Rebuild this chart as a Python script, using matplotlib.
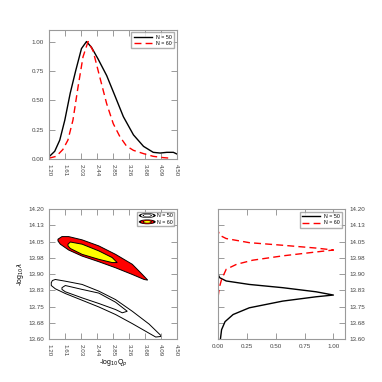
import numpy as np
import matplotlib.pyplot as plt
from matplotlib.patches import Polygon, Patch, Ellipse
from matplotlib.legend_handler import HandlerPatch

plt.rcParams['font.family'] = ['Liberation Sans', 'DejaVu Sans']

# marginal of -log10 Qp
qp_50 = [1.20, 1.35, 1.48, 1.61, 1.75, 1.89, 2.04, 2.17, 2.30, 2.47, 2.69, 2.90,
         3.12, 3.38, 3.64, 3.89, 4.07, 4.24, 4.41, 4.50]
p_qp_50 = [0.017, 0.065, 0.16, 0.33, 0.56, 0.75, 0.94, 1.0, 0.95, 0.85, 0.71, 0.54,
           0.36, 0.205, 0.107, 0.056, 0.05, 0.056, 0.056, 0.042]
qp_60 = [1.20, 1.39, 1.56, 1.69, 1.82, 1.95, 2.08, 2.21, 2.34, 2.51, 2.69, 2.86,
         3.03, 3.20, 3.38, 3.64, 3.89, 4.15, 4.33]
p_qp_60 = [0.006, 0.022, 0.08, 0.16, 0.33, 0.61, 0.87, 1.0, 0.92, 0.70, 0.47, 0.30,
           0.19, 0.11, 0.073, 0.045, 0.022, 0.011, 0.006]

# marginal of -log10 lambda
lam_50 = [13.600, 13.643, 13.680, 13.713, 13.744, 13.775, 13.795, 13.803, 13.818,
          13.837, 13.852, 13.868, 13.883, 13.898]
p_lam_50 = [0.02, 0.03, 0.06, 0.13, 0.27, 0.56, 0.85, 1.0, 0.85, 0.56, 0.27, 0.07,
            0.014, 0.0]
lam_60 = [13.795, 13.837, 13.875, 13.922, 13.945, 13.964, 13.984, 14.002, 14.011,
          14.020, 14.033, 14.045, 14.064, 14.079, 14.099]
p_lam_60 = [0.0, 0.01, 0.03, 0.07, 0.16, 0.30, 0.56, 0.85, 1.0, 0.85, 0.56, 0.27,
            0.07, 0.014, 0.0]

# joint credible regions (outer / inner), traced clockwise from the left tip
n50_outer_x = [1.261, 1.290, 1.365, 1.624, 2.056, 2.487, 2.919, 3.351, 3.783, 4.111,
               3.955, 3.351, 2.919, 2.487, 2.056, 1.624, 1.365, 1.261]
n50_outer_y = [13.860, 13.870, 13.875, 13.867, 13.852, 13.821, 13.782, 13.728, 13.669,
               13.612, 13.609, 13.671, 13.713, 13.748, 13.779, 13.810, 13.832, 13.847]
n50_inner_x = [1.537, 1.624, 2.056, 2.487, 2.919, 3.221, 3.092, 2.919, 2.487, 2.056,
               1.624, 1.537]
n50_inner_y = [13.837, 13.847, 13.829, 13.812, 13.770, 13.728, 13.721, 13.736, 13.764,
               13.790, 13.818, 13.829]
n60_outer_x = [1.434, 1.537, 1.710, 2.056, 2.487, 2.919, 3.351, 3.610, 3.748,
               3.653, 3.351, 2.919, 2.487, 2.056, 1.710, 1.494, 1.434]
n60_outer_y = [14.061, 14.073, 14.073, 14.058, 14.030, 13.991, 13.945, 13.898, 13.872,
               13.875, 13.898, 13.929, 13.957, 13.983, 14.011, 14.038, 14.053]
n60_inner_x = [1.693, 1.753, 2.056, 2.487, 2.833, 2.962, 2.833, 2.487, 2.056, 1.753,
               1.693]
n60_inner_y = [14.038, 14.048, 14.038, 14.007, 13.976, 13.953, 13.953, 13.968, 13.991,
               14.018, 14.030]

qp_ticks = np.linspace(1.2, 4.5, 9)
qp_labels = ['1.20', '1.61', '2.03', '2.44', '2.85', '3.26', '3.68', '4.09', '4.50']
lam_ticks = np.linspace(13.6, 14.2, 9)
lam_labels = ['13.60', '13.68', '13.75', '13.83', '13.90', '13.98', '14.05', '14.13', '14.20']
p_ticks = [0, 0.25, 0.5, 0.75, 1.0]
p_labels = ['0.00', '0.25', '0.50', '0.75', '1.00']

grey = '#9a9a9a'
fs = 4.5
clw = 0.7


def style(ax):
    for s in ax.spines.values():
        s.set_color(grey)
        s.set_linewidth(0.8)
    ax.tick_params(direction='in', length=4, width=0.7, color=grey,
                   labelsize=fs, labelcolor='#444444',
                   top=True, right=True, left=True, bottom=True)


class HandlerRings(HandlerPatch):
    # legend key drawn as nested rings, like small contours
    def __init__(self, mid, inner):
        super().__init__()
        self.mid = mid
        self.inner = inner

    def create_artists(self, legend, orig_handle, xdescent, ydescent, width, height,
                       fontsize, trans):
        cx, cy = 0.5 * width - xdescent, 0.5 * height - ydescent
        out = []
        for scale, col in [(1.0, 'black'), (0.75, self.mid), (0.55, 'black'), (0.4, self.inner)]:
            e = Ellipse((cx, cy), width * scale, height * 1.1 * scale, facecolor=col,
                        edgecolor='none', transform=trans)
            out.append(e)
        return out


fig = plt.figure(figsize=(3.82, 3.82), dpi=100)

# top: marginal of Qp
ax1 = fig.add_axes([0.128, 0.584, 0.335, 0.338])
ax1.plot(qp_50, p_qp_50, color='black', lw=1.0, label='N = 50')
ax1.plot(qp_60, p_qp_60, color='red', lw=1.0, ls=(0, (5, 3)), label='N = 60')
ax1.set_xlim(1.2, 4.5)
ax1.set_ylim(0, 1.1)
ax1.set_xticks(qp_ticks)
ax1.set_xticklabels(qp_labels, rotation=270)
ax1.set_yticks(p_ticks)
ax1.set_yticklabels(p_labels)
style(ax1)
ax1.legend(loc='upper right', fontsize=3.8, frameon=True, fancybox=False,
           edgecolor=grey, handlelength=3.5, borderpad=0.4, labelspacing=0.3)

# bottom left: joint
ax2 = fig.add_axes([0.128, 0.1126, 0.335, 0.340])
ax2.add_patch(Polygon(np.column_stack([n60_outer_x, n60_outer_y]), closed=True,
                      facecolor='red', edgecolor='black', lw=clw))
ax2.add_patch(Polygon(np.column_stack([n60_inner_x, n60_inner_y]), closed=True,
                      facecolor='yellow', edgecolor='black', lw=clw))
ax2.add_patch(Polygon(np.column_stack([n50_outer_x, n50_outer_y]), closed=True,
                      facecolor='none', edgecolor='black', lw=clw))
ax2.add_patch(Polygon(np.column_stack([n50_inner_x, n50_inner_y]), closed=True,
                      facecolor='none', edgecolor='black', lw=clw))
ax2.set_xlim(1.2, 4.5)
ax2.set_ylim(13.6, 14.2)
ax2.set_xticks(qp_ticks)
ax2.set_xticklabels(qp_labels, rotation=270)
ax2.set_yticks(lam_ticks)
ax2.set_yticklabels(lam_labels)
ax2.set_xlabel(r'-log$_{10}$Q$_p$', fontsize=5, labelpad=1)
ax2.set_ylabel(r'-log$_{10}\lambda$', fontsize=5, labelpad=2)
style(ax2)
h50 = Patch(facecolor='white', edgecolor='black')
h60 = Patch(facecolor='red', edgecolor='black')
ax2.legend([h50, h60], ['N = 50', 'N = 60'], loc='upper right', fontsize=3.8,
           frameon=True, fancybox=False, edgecolor=grey, handlelength=3.2,
           handleheight=0.9, borderpad=0.3, labelspacing=0.25, handletextpad=0.2,
           handler_map={h50: HandlerRings('white', 'white'),
                        h60: HandlerRings('red', 'yellow')})

# bottom right: marginal of lambda
ax3 = fig.add_axes([0.571, 0.1126, 0.332, 0.340])
ax3.plot(p_lam_50, lam_50, color='black', lw=1.0, label='N = 50')
ax3.plot(p_lam_60, lam_60, color='red', lw=1.0, ls=(0, (5, 3)), label='N = 60')
ax3.set_xlim(0, 1.1)
ax3.set_ylim(13.6, 14.2)
ax3.set_xticks(p_ticks)
ax3.set_xticklabels(p_labels)
ax3.set_yticks(lam_ticks)
ax3.set_yticklabels(lam_labels)
style(ax3)
ax3.tick_params(labelleft=False, labelright=True)
ax3.legend(loc='upper right', fontsize=3.8, frameon=True, fancybox=False,
           edgecolor=grey, handlelength=3.5, borderpad=0.4, labelspacing=0.3)

fig.savefig('out.png', dpi=100)
